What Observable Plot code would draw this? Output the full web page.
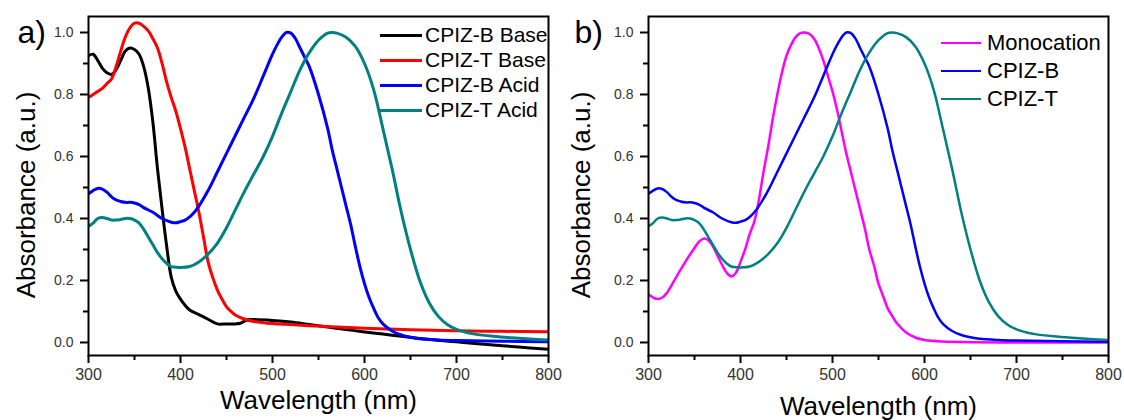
<!DOCTYPE html>
<html><head><meta charset="utf-8">
<script src="https://cdn.jsdelivr.net/npm/d3@7"></script>
<script src="https://cdn.jsdelivr.net/npm/@observablehq/plot@0.6"></script>
<style>
html,body{margin:0;padding:0;background:#fff;}
#wrap{position:relative;width:1124px;height:420px;display:flex;overflow:hidden;font-family:"Liberation Sans",Arial,sans-serif;}
.row{position:absolute;display:flex;align-items:center;white-space:nowrap;color:#000;font-family:"Liberation Sans",Arial,sans-serif;}
.sw{display:inline-block;}
</style></head><body><div id="wrap"></div>
<script>
// ---- data ----
const xMajor = [300, 400, 500, 600, 700, 800];
const xMinor = [350, 450, 550, 650, 750];
const yMajor = [0, 0.2, 0.4, 0.6, 0.8, 1.0];
const yMinor = [0.1, 0.3, 0.5, 0.7, 0.9];

const bBaseWl  = [300,305,310,315,320,325,330,335,340,345,350,355,360,365,370,375,380,385,390,395,400,405,410,420,430,440,450,460,465,470,475,480,500,520,540,560,580,600,620,640,660,680,700,720,740,760,780,800];
const bBaseAbs = [0.925,0.93,0.91,0.885,0.87,0.865,0.88,0.91,0.94,0.95,0.945,0.93,0.89,0.82,0.71,0.56,0.43,0.31,0.21,0.165,0.14,0.12,0.105,0.09,0.075,0.06,0.06,0.06,0.062,0.07,0.074,0.074,0.071,0.066,0.058,0.05,0.042,0.034,0.027,0.02,0.013,0.007,0.002,-0.003,-0.008,-0.013,-0.018,-0.022];

const tBaseWl  = [300,305,310,315,320,325,330,335,340,345,350,355,360,365,370,375,380,385,390,395,400,405,410,415,420,425,430,435,440,445,450,455,460,470,480,500,550,600,650,700,750,800];
const tBaseAbs = [0.79,0.80,0.81,0.82,0.835,0.85,0.89,0.94,0.985,1.015,1.03,1.03,1.02,1.005,0.98,0.95,0.90,0.84,0.79,0.745,0.69,0.63,0.56,0.49,0.42,0.34,0.26,0.21,0.17,0.14,0.115,0.10,0.088,0.075,0.068,0.061,0.053,0.046,0.041,0.038,0.036,0.035];

const bAcidWl  = [300,305,310,315,320,325,330,335,340,345,350,355,360,370,380,390,395,400,405,410,415,420,430,440,450,460,470,480,490,500,505,510,515,520,525,530,535,540,550,560,565,570,575,580,585,590,595,600,605,610,615,620,630,640,650,660,680,700,750,800];
const bAcidAbs = [0.48,0.49,0.497,0.495,0.485,0.47,0.46,0.455,0.452,0.452,0.45,0.445,0.435,0.42,0.40,0.388,0.386,0.39,0.395,0.405,0.42,0.44,0.49,0.55,0.61,0.67,0.73,0.79,0.86,0.93,0.96,0.985,1.0,0.998,0.98,0.95,0.92,0.89,0.80,0.69,0.62,0.56,0.50,0.44,0.38,0.31,0.245,0.19,0.145,0.11,0.08,0.06,0.037,0.024,0.017,0.012,0.008,0.006,0.004,0.002];

const tAcidWl  = [300,305,310,315,320,325,330,335,340,345,350,355,360,365,370,375,380,385,390,395,400,410,420,430,440,450,460,470,480,490,500,510,520,530,540,550,560,565,570,580,590,600,610,620,630,640,650,660,670,680,690,700,710,720,740,760,780,800];
const tAcidAbs = [0.375,0.385,0.40,0.403,0.40,0.395,0.395,0.397,0.40,0.40,0.395,0.385,0.365,0.34,0.315,0.29,0.27,0.255,0.245,0.243,0.242,0.245,0.26,0.285,0.32,0.37,0.43,0.49,0.545,0.60,0.665,0.74,0.81,0.88,0.935,0.975,0.998,1.0,0.998,0.985,0.955,0.90,0.815,0.69,0.56,0.42,0.30,0.20,0.13,0.085,0.058,0.042,0.033,0.027,0.02,0.015,0.011,0.008];

const monoWl  = [300,305,310,315,320,330,340,350,355,360,365,370,375,380,385,390,395,400,405,410,415,420,425,430,435,440,445,450,455,460,465,470,475,480,485,490,495,500,505,510,515,520,525,530,535,540,545,550,555,560,565,570,580,590,600,620,650,700,750,800];
const monoAbs = [0.155,0.145,0.14,0.145,0.16,0.21,0.26,0.305,0.325,0.335,0.33,0.31,0.28,0.25,0.225,0.213,0.225,0.26,0.30,0.35,0.39,0.46,0.55,0.63,0.72,0.80,0.87,0.925,0.96,0.985,0.998,1.0,0.995,0.98,0.95,0.91,0.86,0.81,0.75,0.68,0.61,0.55,0.49,0.43,0.37,0.30,0.25,0.19,0.15,0.11,0.085,0.062,0.032,0.016,0.008,0.003,0.001,0,0,0];

const seriesA = [
  {name: "CPIZ-B Base", color: "#000000", wl: bBaseWl, abs: bBaseAbs},
  {name: "CPIZ-T Base", color: "#ff0000", wl: tBaseWl, abs: tBaseAbs},
  {name: "CPIZ-B Acid", color: "#0000ff", wl: bAcidWl, abs: bAcidAbs},
  {name: "CPIZ-T Acid", color: "#008080", wl: tAcidWl, abs: tAcidAbs}
];
const seriesB = [
  {name: "Monocation", color: "#ff00ff", wl: monoWl, abs: monoAbs},
  {name: "CPIZ-B", color: "#0000ff", wl: bAcidWl, abs: bAcidAbs},
  {name: "CPIZ-T", color: "#008080", wl: tAcidWl, abs: tAcidAbs}
];

const FONT = "Liberation Sans, Arial, sans-serif";

function makePanel(series, o) {
  const data = series.flatMap(s => s.wl.map((w, i) => ({series: s.name, wl: w, abs: s.abs[i]})));
  return Plot.plot({
    width: 562, height: 420,
    marginLeft: o.ml, marginRight: o.mr, marginTop: 16, marginBottom: 65,
    style: {fontFamily: FONT, background: "white", color: "black", overflow: "visible"},
    x: {domain: [300, 800]},
    y: {domain: [-0.042, 1.0516]},
    color: {domain: series.map(s => s.name), range: series.map(s => s.color)},
    marks: [
      Plot.line(data, {x: "wl", y: "abs", z: "series", stroke: "series", strokeWidth: o.sw, curve: "catmull-rom", clip: true}),
      Plot.frame({stroke: "black", strokeWidth: 2}),
      Plot.axisX({ticks: xMinor, tickSize: 5, strokeWidth: 2, stroke: "black", tickFormat: () => "", label: null}),
      Plot.axisX({ticks: xMajor, tickSize: 8, strokeWidth: 2, stroke: "black", fill: "#333", tickPadding: 5, fontSize: 16, label: null}),
      Plot.axisY({ticks: yMinor, tickSize: 5, strokeWidth: 2, stroke: "black", tickFormat: () => "", label: null}),
      Plot.axisY({ticks: yMajor, tickSize: 8, strokeWidth: 2, stroke: "black", fill: "#333", tickPadding: 7, fontSize: 14, tickFormat: d3.format(".1f"), label: null}),
      Plot.text(["Wavelength (nm)"], {frameAnchor: "bottom", textAnchor: "middle", lineAnchor: "bottom", dy: o.xdy, fontSize: 26, fill: "black"}),
      Plot.text(["Absorbance (a.u.)"], {frameAnchor: "left", textAnchor: "middle", lineAnchor: "middle", rotate: -90, dx: o.ydx, dy: 9, fontSize: 26, fill: "black"}),
      Plot.text([o.tag], {frameAnchor: "top-left", textAnchor: "start", lineAnchor: "bottom", dx: o.tagdx, dy: 26, fontSize: 32, fill: "black"})
    ]
  });
}

const wrap = document.getElementById("wrap");
wrap.appendChild(makePanel(seriesA, {ml: 88, mr: 14, sw: 3, xdy: 53, ydx: -62, tag: "a)", tagdx: -71}));
wrap.appendChild(makePanel(seriesB, {ml: 86, mr: 16, sw: 2.5, xdy: 59, ydx: -67, tag: "b)", tagdx: -74}));

function legend(series, L) {
  series.forEach((s, i) => {
    const row = document.createElement("div");
    row.className = "row";
    row.style.left = L.x + "px";
    row.style.top = (L.y0 + i * L.step - 15) + "px";
    row.style.height = "30px";
    row.style.fontSize = L.fs + "px";
    const sw = document.createElement("span");
    sw.className = "sw";
    sw.style.width = L.w + "px";
    sw.style.height = L.h + "px";
    sw.style.background = s.color;
    const tx = document.createElement("span");
    tx.textContent = s.name;
    tx.style.marginLeft = L.gap + "px";
    row.appendChild(sw); row.appendChild(tx);
    wrap.appendChild(row);
  });
}
legend(seriesA, {x: 380, y0: 35, step: 25, fs: 21, w: 42, h: 3, gap: 3});
legend(seriesB, {x: 941, y0: 43, step: 28, fs: 22, w: 40, h: 2.5, gap: 6});
</script></body></html>
